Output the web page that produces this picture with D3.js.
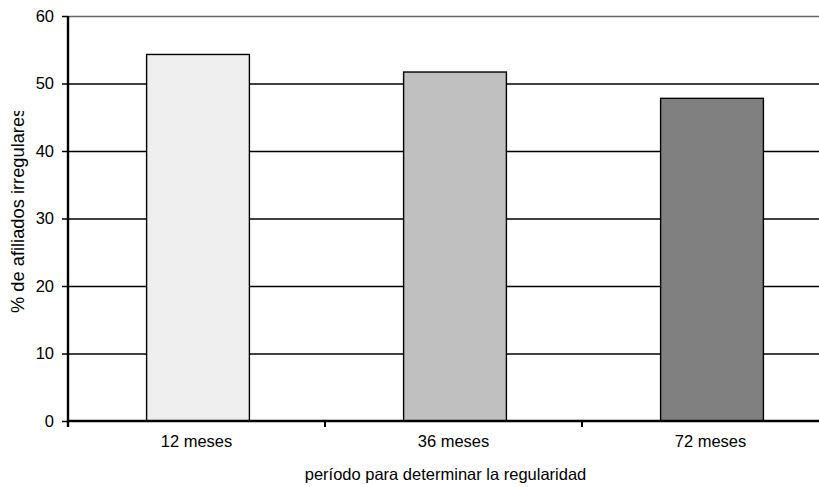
<!DOCTYPE html>
<html>
<head>
<meta charset="utf-8">
<script src="https://cdn.jsdelivr.net/npm/d3@7"></script>
<style>
  body { margin: 0; background: #fff; }
  text { font-family: "Liberation Sans", Arial, sans-serif; fill: #000; }
</style>
</head>
<body>
<script>
var categories = ['12 meses', '36 meses', '72 meses'];
var values = [54.3, 51.7, 47.8];
var colors = ['#efefef', '#c0c0c0', '#808080'];
var yTicks = [0, 10, 20, 30, 40, 50, 60];
var xTitle = 'período para determinar la regularidad';
var yTitle = '% de afiliados irregulares';

var width = 819, height = 487;
var plotLeft = 68, plotRight = 839, plotTop = 16, plotBottom = 421;

var svg = d3.select('body').append('svg')
  .attr('width', width)
  .attr('height', height);

var x = d3.scaleBand().domain(categories).range([plotLeft, plotRight]).padding(0);
var y = d3.scaleLinear().domain([0, 60]).range([plotBottom, plotTop]);

// gridlines
svg.append('g').selectAll('line')
  .data(yTicks.filter(function(d) { return d > 0; }))
  .enter().append('line')
  .attr('x1', plotLeft).attr('x2', width)
  .attr('y1', function(d) { return y(d) + 0.5; })
  .attr('y2', function(d) { return y(d) + 0.5; })
  .attr('stroke', function(d) { return d === 60 ? '#666' : '#000'; })
  .attr('stroke-width', 1.3);

// bars
var barW = x.bandwidth() * 0.4;
svg.append('g').selectAll('rect')
  .data(values)
  .enter().append('rect')
  .attr('x', function(d, i) { return x(categories[i]) + (x.bandwidth() - barW) / 2 + 1.5; })
  .attr('y', function(d) { return y(d); })
  .attr('width', barW)
  .attr('height', function(d) { return y(0) - y(d); })
  .attr('fill', function(d, i) { return colors[i]; })
  .attr('stroke', '#000')
  .attr('stroke-width', 1.4);

// y axis
var yAxis = svg.append('g')
  .attr('transform', 'translate(' + plotLeft + ',0)')
  .call(d3.axisLeft(y).tickValues(yTicks).tickSize(6).tickPadding(8));
yAxis.select('.domain').attr('stroke', '#000').attr('stroke-width', 2.4)
  .attr('d', 'M0,' + plotTop + 'V' + (plotBottom + 6));
yAxis.selectAll('.tick line').attr('stroke', '#000').attr('stroke-width', 1.5);
yAxis.selectAll('text').style('font-size', '16.5px');

// x axis
var xAxis = svg.append('g')
  .attr('transform', 'translate(0,' + plotBottom + ')')
  .call(d3.axisBottom(x).tickSize(0).tickPadding(14));
xAxis.select('.domain').attr('stroke', '#000').attr('stroke-width', 2.4)
  .attr('d', 'M' + plotLeft + ',0H' + width);
xAxis.selectAll('text').style('font-size', '16.5px');
xAxis.selectAll('.sep')
  .data(categories.slice(1))
  .enter().append('line')
  .attr('x1', function(d) { return x(d); })
  .attr('x2', function(d) { return x(d); })
  .attr('y1', 0).attr('y2', 6)
  .attr('stroke', '#000').attr('stroke-width', 2);

// titles
svg.append('text')
  .attr('x', (plotLeft + plotRight) / 2 - 8)
  .attr('y', 480)
  .attr('text-anchor', 'middle')
  .style('font-size', '16.5px')
  .text(xTitle);

svg.append('clipPath').attr('id', 'yclip')
  .append('rect').attr('x', 0).attr('y', 111).attr('width', 40).attr('height', 300);

svg.append('g')
  .attr('clip-path', 'url(#yclip)')
  .append('text')
  .attr('transform', 'translate(24,313) rotate(-90)')
  .attr('text-anchor', 'start')
  .style('font-size', '18.3px')
  .text(yTitle);
</script>
</body>
</html>
